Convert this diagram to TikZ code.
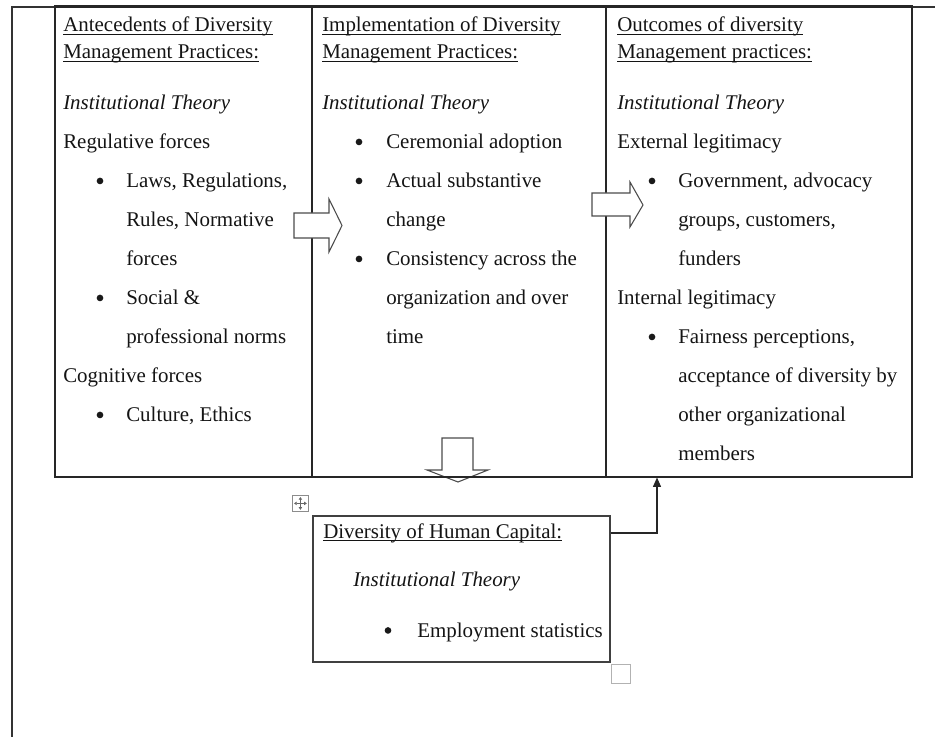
\documentclass[tikz,border=0pt]{standalone}
\usepackage{fontspec}
\setmainfont{Liberation Serif}
\usetikzlibrary{fit,arrows.meta}
\newcommand\ulx[1]{\setbox0\hbox{#1}\rlap{\rule[-2.6pt]{\wd0}{0.75pt}}\box0}
\begin{document}
\begin{tikzpicture}[x=0.75pt,y=-0.75pt,
  font=\fontsize{15.7}{18}\selectfont,
  txt/.style={anchor=base west, inner sep=0pt, text=black!92},
  bul/.style={circle, fill=black!90, inner sep=0pt, minimum size=5pt, yshift=4.9pt},
  cell/.style={draw=black!85, line width=0.8pt, inner sep=0pt},
  barrow/.style={draw=black!70, fill=white, line width=0.8pt, line join=miter},
  handle/.style={draw=black!45, line width=0.6pt, fill=white}]
\useasboundingbox (0,0) rectangle (935,737);

% page frame
\draw[line width=1.5pt, black!80] (12,737) -- (12,7) -- (935,7);

% down block arrow (under the table line)
\draw[barrow] (442,438) -- (473,438) -- (473,470) -- (488,470) -- (458,482)
  -- (427,470) -- (442,470) -- cycle;

% table cells
\node[cell, fit={(55,7)(312,477)}] (c1) {};
\node[cell, fit={(312,7)(606,477)}] (c2) {};
\node[cell, fit={(606,7)(912,477)}] (c3) {};
\draw[line width=1.5pt, black!85] (c1.north west) -- (c3.north east);

% right block arrows
\draw[barrow] (294,213) -- (329,213) -- (329,199) -- (342,225.5) -- (329,252)
  -- (329,238) -- (294,238) -- cycle;
\draw[barrow] (592,193) -- (630,193) -- (630,182) -- (643,205) -- (630,227)
  -- (630,216) -- (592,216) -- cycle;

% column 1
\node[txt] (h1a) at (63,32) {\ulx{Antecedents of Diversity}};
\node[txt] (h1b) at (63,58.5) {\ulx{Management Practices:}};
\node[txt] (t1) at (63,109.5) {\itshape Institutional Theory};
\node[txt] (r1) at (63,148.5) {Regulative forces};
\node[bul] (b1a) at (100,187.5) {};
\node[txt] (l1a) at (126,187.5) {Laws, Regulations,};
\node[txt] (l1b) at (126,226.5) {Rules, Normative};
\node[txt] (l1c) at (126,265.5) {forces};
\node[bul] (b1b) at (100,304.5) {};
\node[txt] (l1d) at (126,304.5) {Social \&};
\node[txt] (l1e) at (126,343.5) {professional norms};
\node[txt] (r1b) at (63,382.5) {Cognitive forces};
\node[bul] (b1c) at (100,421.5) {};
\node[txt] (l1f) at (126,421.5) {Culture, Ethics};

% column 2
\node[txt] (h2a) at (322,32) {\ulx{Implementation of Diversity}};
\node[txt] (h2b) at (322,58.5) {\ulx{Management Practices:}};
\node[txt] (t2) at (322,109.5) {\itshape Institutional Theory};
\node[bul] (b2a) at (359,148.5) {};
\node[txt] (l2a) at (386,148.5) {Ceremonial adoption};
\node[bul] (b2b) at (359,187.5) {};
\node[txt] (l2b) at (386,187.5) {Actual substantive};
\node[txt] (l2c) at (386,226.5) {change};
\node[bul] (b2c) at (359,265.5) {};
\node[txt] (l2d) at (386,265.5) {Consistency across the};
\node[txt] (l2e) at (386,304.5) {organization and over};
\node[txt] (l2f) at (386,343.5) {time};

% column 3
\node[txt] (h3a) at (617,32) {\ulx{Outcomes of diversity}};
\node[txt] (h3b) at (617,58.5) {\ulx{Management practices:}};
\node[txt] (t3) at (617,109.5) {\itshape Institutional Theory};
\node[txt] (r3a) at (617,148.5) {External legitimacy};
\node[bul] (b3a) at (652,187.5) {};
\node[txt] (l3a) at (678,187.5) {Government, advocacy};
\node[txt] (l3b) at (678,226.5) {groups, customers,};
\node[txt] (l3c) at (678,265.5) {funders};
\node[txt] (r3b) at (617,304.5) {Internal legitimacy};
\node[bul] (b3b) at (652,343.5) {};
\node[txt] (l3d) at (678,343.5) {Fairness perceptions,};
\node[txt] (l3e) at (678,382.5) {acceptance of diversity by};
\node[txt] (l3f) at (678,421.5) {other organizational};
\node[txt] (l3g) at (678,460.5) {members};

% bottom box
\node[draw=black!75, line width=0.9pt, inner sep=0pt, fit={(313,516)(610,662)}] (hc) {};
\node[txt] (h4) at (323,538) {\ulx{Diversity of Human Capital:}};
\node[txt] (t4) at (353,586) {\itshape Institutional Theory};
\node[bul] (b4) at (388,637) {};
\node[txt] (l4) at (417,637) {Employment statistics};

% connector from bottom box up to the table
\coordinate (bend) at (657,533);
\draw[black!85, line width=0.8pt, -{Triangle[length=7pt,width=6pt]}]
  (hc.east |- bend) -- (bend) -- (bend |- c3.south);

% move handle
\node[handle, minimum width=12pt, minimum height=12pt, anchor=north west] (mh) at (292,495) {};
\draw[black!60, line width=0.5pt, {Triangle[length=2pt,width=2.5pt]}-{Triangle[length=2pt,width=2.5pt]}]
  ([xshift=1.5pt]mh.west) -- ([xshift=-1.5pt]mh.east);
\draw[black!60, line width=0.5pt, {Triangle[length=2pt,width=2.5pt]}-{Triangle[length=2pt,width=2.5pt]}]
  ([yshift=-1.5pt]mh.north) -- ([yshift=1.5pt]mh.south);

% resize handle
\node[draw=black!30, line width=0.6pt, minimum width=14pt, minimum height=14pt, anchor=north west] (rh) at (611,664) {};
\end{tikzpicture}
\end{document}
